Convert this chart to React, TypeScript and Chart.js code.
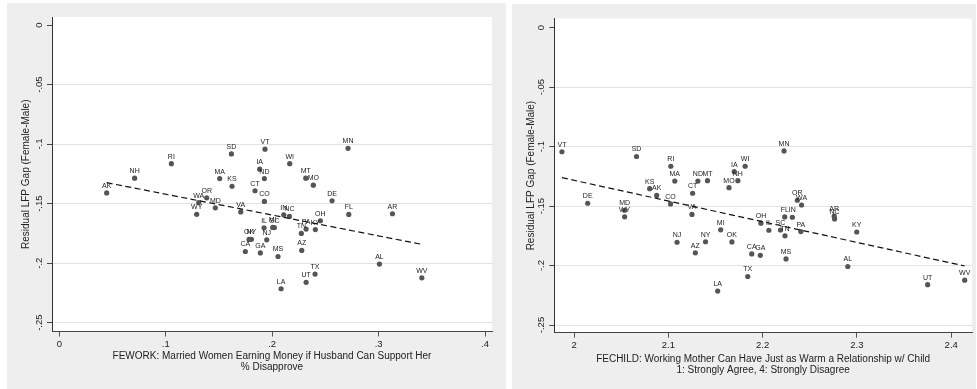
import React, { useEffect, useRef } from "react";
import { Chart, registerables } from "chart.js";
Chart.register(...registerables);

// ---------- data ----------
const states = ["AK","NH","RI","SD","VT","MN","WI","IA","ND","MA","KS","CT","MT","MO","CO","DE","WA","OR","MD","WY","VA","IN","NC","FL","AR","OH","IL","SC","MI","PA","KY","TN","OK","NY","NJ","CA","GA","MS","AZ","AL","TX","UT","LA","WV"];
const gap = [-0.141,-0.1286,-0.1165,-0.1083,-0.1043,-0.1036,-0.1165,-0.1211,-0.129,-0.129,-0.1354,-0.1392,-0.1286,-0.1345,-0.1482,-0.1476,-0.1491,-0.1451,-0.1535,-0.159,-0.157,-0.1594,-0.1608,-0.1591,-0.1585,-0.1644,-0.1703,-0.1701,-0.170,-0.1714,-0.1718,-0.175,-0.1801,-0.18,-0.1804,-0.1902,-0.1914,-0.1944,-0.1893,-0.2008,-0.2092,-0.2161,-0.2215,-0.2123];
const fework = [0.0445,0.0708,0.1053,0.1617,0.1933,0.2713,0.2165,0.1883,0.1927,0.1507,0.1623,0.1839,0.2316,0.2387,0.1927,0.2563,0.131,0.1385,0.1466,0.1291,0.1705,0.2109,0.2162,0.272,0.313,0.2453,0.1924,0.2021,0.2005,0.2319,0.2406,0.2274,0.1783,0.1805,0.1949,0.1748,0.1889,0.2055,0.2278,0.3008,0.2403,0.2319,0.2084,0.3406];
const fechild = [2.0876,2.1737,2.1026,2.0662,1.9871,2.2227,2.1814,2.1699,2.1313,2.1068,2.0802,2.1257,2.1415,2.1643,2.1023,2.0144,2.2413,2.2368,2.0536,2.0536,2.125,2.2315,2.2763,2.2234,2.2759,2.1982,2.2066,2.2189,2.1555,2.2405,2.2998,2.2237,2.1674,2.1394,2.1092,2.1884,2.1975,2.2248,2.1286,2.2903,2.1842,2.375,2.1523,2.4143];
const feworkFitX = [0.0445, 0.3406];
const feworkFitY = [-0.1324, -0.1842];
const fechildFitX = [1.9871, 2.4143];
const fechildFitY = [-0.1261, -0.2004];
const yTickValues = [0, -0.05, -0.1, -0.15, -0.2, -0.25];
const yTickLabels = ["0", "-.05", "-.1", "-.15", "-.2", "-.25"];
const feworkTickValues = [0, 0.1, 0.2, 0.3, 0.4];
const feworkTickLabels = ["0", ".1", ".2", ".3", ".4"];
const fechildTickValues = [2, 2.1, 2.2, 2.3, 2.4];
const fechildTickLabels = ["2", "2.1", "2.2", "2.3", "2.4"];
const yTitle = "Residual LFP Gap (Female-Male)";
const feworkTitle = ["FEWORK: Married Women Earning Money if Husband Can Support Her", "% Disapprove"];
const fechildTitle = ["FECHILD: Working Mother Can Have Just as Warm a Relationship w/ Child", "1: Strongly Agree, 4: Strongly Disagree"];

const FONT = '"Liberation Sans", Arial, Helvetica, sans-serif';

type PanelProps = {
  left: number; top: number; width: number; height: number;
  yAxisWidth: number; xAxisHeight: number; padTop: number; padRight: number;
  xMin: number; xMax: number; yMin: number; yMax: number;
  xs: number[]; fitX: number[]; fitY: number[];
  xTickValues: number[]; xTickLabels: string[]; xTitle: string[];
  yTitleOffset: number; xTitleOffset: number;
};

function Panel(p: PanelProps) {
  const ref = useRef<HTMLCanvasElement | null>(null);
  useEffect(() => {
    const canvas = ref.current!;
    const panelPlugin = {
      id: "panelPlugin",
      beforeDraw(chart: any) {
        const { ctx, chartArea: a } = chart;
        ctx.save();
        ctx.fillStyle = "#ffffff";
        ctx.fillRect(a.left, a.top, a.right - a.left, a.bottom - a.top);
        ctx.restore();
      },
      afterDatasetDraw(chart: any, args: any) {
        if (chart.data.datasets[args.index].label !== "states") return;
        const ctx = chart.ctx;
        ctx.save();
        ctx.font = `7px ${FONT}`;
        ctx.fillStyle = "#222";
        ctx.textAlign = "center";
        ctx.textBaseline = "alphabetic";
        args.meta.data.forEach((el: any, i: number) => {
          ctx.fillText(states[i], el.x, el.y - 5);
        });
        ctx.restore();
      },
      afterDraw(chart: any) {
        const { ctx, chartArea: a } = chart;
        const ys = chart.scales.y;
        ctx.save();
        ctx.fillStyle = "#222";
        ctx.textAlign = "center";
        ctx.textBaseline = "middle";
        ctx.font = `9.5px ${FONT}`;
        yTickValues.forEach((v, i) => {
          const py = ys.getPixelForValue(v);
          ctx.save();
          ctx.translate(a.left - 13, py);
          ctx.rotate(-Math.PI / 2);
          ctx.fillText(yTickLabels[i], 0, 0);
          ctx.restore();
        });
        ctx.font = `10px ${FONT}`;
        ctx.save();
        ctx.translate(a.left - p.yTitleOffset, (a.top + a.bottom) / 2);
        ctx.rotate(-Math.PI / 2);
        ctx.fillText(yTitle, 0, 0);
        ctx.restore();
        const cx = (a.left + a.right) / 2;
        p.xTitle.forEach((line, i) => {
          ctx.fillText(line, cx, a.bottom + p.xTitleOffset + i * 11);
        });
        ctx.restore();
      },
    };
    const chart = new Chart(canvas, {
      type: "scatter",
      data: {
        datasets: [
          {
            label: "fit",
            data: p.fitX.map((x, i) => ({ x, y: p.fitY[i] })),
            showLine: true,
            borderColor: "#111",
            borderWidth: 1.2,
            borderDash: [6, 3.5],
            pointRadius: 0,
            fill: false,
            order: 0,
          } as any,
          {
            label: "states",
            data: p.xs.map((x, i) => ({ x, y: gap[i] })),
            pointRadius: 2.6,
            pointBackgroundColor: "#555",
            pointBorderWidth: 0,
            borderWidth: 0,
            order: 1,
          } as any,
        ],
      },
      options: {
        animation: false,
        responsive: false,
        devicePixelRatio: 1,
        events: [],
        layout: { padding: { top: p.padTop, right: p.padRight, left: 0, bottom: 0 } },
        plugins: { legend: { display: false }, tooltip: { enabled: false } },
        scales: {
          x: {
            type: "linear",
            min: p.xMin,
            max: p.xMax,
            afterBuildTicks: (s: any) => { s.ticks = p.xTickValues.map((v) => ({ value: v })); },
            afterFit: (s: any) => { s.height = p.xAxisHeight; },
            border: { display: true, color: "#444", width: 1 },
            grid: { drawOnChartArea: false, drawTicks: true, tickLength: 5, tickColor: "#555", tickWidth: 1 },
            ticks: {
              padding: 2,
              color: "#222",
              font: { family: FONT, size: 9.5 },
              maxRotation: 0,
              autoSkip: false,
              callback: (v: any) => {
                const i = p.xTickValues.findIndex((t) => Math.abs(t - v) < 1e-9);
                return i >= 0 ? p.xTickLabels[i] : "";
              },
            },
          },
          y: {
            type: "linear",
            min: p.yMin,
            max: p.yMax,
            afterBuildTicks: (s: any) => { s.ticks = yTickValues.map((v) => ({ value: v })); },
            afterFit: (s: any) => { s.width = p.yAxisWidth; },
            border: { display: true, color: "#333", width: 1 },
            grid: {
              drawTicks: true,
              tickLength: 5,
              tickColor: "#444",
              lineWidth: 1,
              color: (c: any) => (c.tick && Math.abs(c.tick.value) < 1e-9 ? "rgba(0,0,0,0)" : "#e2e2e2"),
            },
            ticks: { display: false },
          },
        },
      } as any,
      plugins: [panelPlugin],
    });
    return () => chart.destroy();
  }, []);
  return (
    <div style={{ position: "absolute", left: p.left, top: p.top, width: p.width, height: p.height, background: "#eeeeee" }}>
      <canvas ref={ref} width={p.width} height={p.height} style={{ display: "block" }} />
    </div>
  );
}

export default function App() {
  return (
    <div style={{ position: "absolute", left: 0, top: 0, width: 977, height: 389, background: "#ffffff", overflow: "hidden" }}>
      <Panel
        left={7} top={3} width={499} height={386}
        yAxisWidth={45} xAxisHeight={57.5} padTop={14} padRight={14}
        xMin={-0.00686} xMax={0.40656} yMin={-0.2574} yMax={0.00672}
        xs={fework} fitX={feworkFitX} fitY={feworkFitY}
        xTickValues={feworkTickValues} xTickLabels={feworkTickLabels} xTitle={feworkTitle}
        yTitleOffset={25.3} xTitleOffset={25.2}
      />
      <Panel
        left={512} top={4} width={464} height={385}
        yAxisWidth={42.3} xAxisHeight={56.3} padTop={14.5} padRight={0}
        xMin={1.97899} xMax={2.42206} yMin={-0.25647} yMax={0.00774}
        xs={fechild} fitX={fechildFitX} fitY={fechildFitY}
        xTickValues={fechildTickValues} xTickLabels={fechildTickLabels} xTitle={fechildTitle}
        yTitleOffset={22.6} xTitleOffset={26.6}
      />
    </div>
  );
}
